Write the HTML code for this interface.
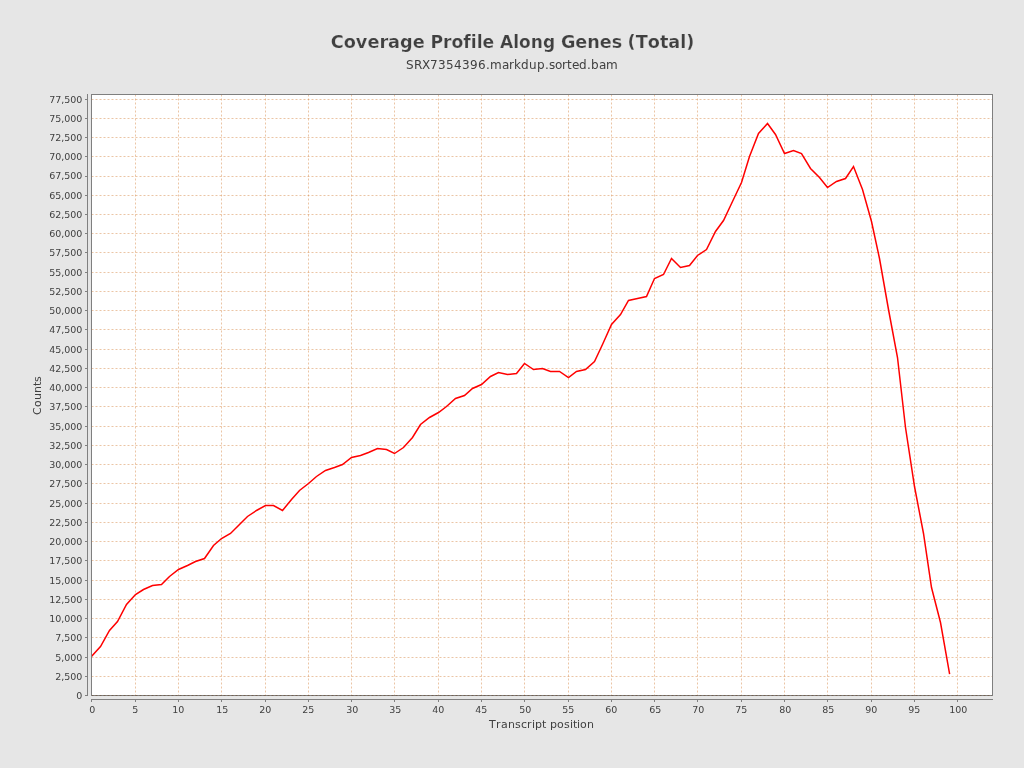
<!DOCTYPE html>
<html><head><meta charset="utf-8"><title>Coverage Profile Along Genes (Total)</title>
<style>html,body{margin:0;padding:0;background:#e6e6e6;overflow:hidden}svg{display:block}text{font-family:"DejaVu Sans","Liberation Sans",sans-serif;fill:#404040;font-variant-ligatures:none;font-kerning:none}</style></head><body>
<svg width="1024" height="768" viewBox="0 0 1024 768">
<rect width="1024" height="768" fill="#e6e6e6"/>
<text y="47.5" font-size="18" font-weight="bold" stroke="#e6e6e6" stroke-width="0.22"><tspan x="330.72" textLength="94.01" lengthAdjust="spacingAndGlyphs">Coverage</tspan> <tspan x="430.49" textLength="63.70" lengthAdjust="spacingAndGlyphs">Profile</tspan> <tspan x="500.10" textLength="55.01" lengthAdjust="spacingAndGlyphs">Along</tspan> <tspan x="560.92" textLength="61.28" lengthAdjust="spacingAndGlyphs">Genes</tspan> <tspan x="627.62" textLength="66.78" lengthAdjust="spacingAndGlyphs">(Total)</tspan></text>
<text x="406 414 422 430 438 446 454 462 470 478 486 490 502 509 514 521 529 537 545 549 555 562 567 572 579 587 591 599 606" y="69" font-size="12">SRX7354396.markdup.sorted.bam</text>
<rect x="91" y="94" width="902" height="602" fill="#fff"/>
<path d="M135.5 95V695.5M178.5 95V695.5M221.5 95V695.5M265.5 95V695.5M308.5 95V695.5M351.5 95V695.5M394.5 95V695.5M438.5 95V695.5M481.5 95V695.5M524.5 95V695.5M568.5 95V695.5M611.5 95V695.5M654.5 95V695.5M697.5 95V695.5M741.5 95V695.5M784.5 95V695.5M827.5 95V695.5M871.5 95V695.5M914.5 95V695.5M957.5 95V695.5M92 695.5H992M92 676.5H992M92 657.5H992M92 637.5H992M92 618.5H992M92 599.5H992M92 580.5H992M92 560.5H992M92 541.5H992M92 522.5H992M92 503.5H992M92 483.5H992M92 464.5H992M92 445.5H992M92 426.5H992M92 406.5H992M92 387.5H992M92 368.5H992M92 349.5H992M92 329.5H992M92 310.5H992M92 291.5H992M92 272.5H992M92 252.5H992M92 233.5H992M92 214.5H992M92 195.5H992M92 176.5H992M92 156.5H992M92 137.5H992M92 118.5H992M92 99.5H992" fill="none" stroke="rgb(214,139,74)" stroke-width="0.5" stroke-dasharray="2 2" stroke-dashoffset="0.5"/>
<clipPath id="c"><rect x="92" y="95" width="900" height="600.6"/></clipPath>
<polyline clip-path="url(#c)" points="91.5,656.5 100.5,646.5 109.5,630.5 117.5,621.5 126.5,604.5 135.5,594.5 143.5,589.5 152.5,585.5 161.5,584.5 169.5,576.5 178.5,569.5 187.5,565.5 195.5,561.5 204.5,558.5 213.5,545.5 221.5,538.5 230.5,533.5 239.5,524.5 247.5,516.5 256.5,510.5 265.5,505.5 273.5,505.5 282.5,510.5 291.5,499.5 299.5,490.5 308.5,483.5 316.5,476.5 325.5,470.5 334.5,467.5 342.5,464.5 351.5,457.5 360.5,455.5 368.5,452.5 377.5,448.5 386.5,449.5 394.5,453.5 403.5,447.5 412.5,437.5 420.5,424.5 429.5,417.5 438.5,412.5 446.5,406.5 455.5,398.5 464.5,395.5 472.5,388.5 481.5,384.5 490.5,376.5 498.5,372.5 507.5,374.5 516.5,373.5 524.5,363.5 533.5,369.5 542.5,368.5 550.5,371.5 559.5,371.5 568.5,377.5 576.5,371.5 585.5,369.5 594.5,361.5 602.5,344.5 611.5,324.5 620.5,314.5 628.5,300.5 637.5,298.5 646.5,296.5 654.5,278.5 663.5,274.5 671.5,258.5 680.5,267.5 689.5,265.5 697.5,255.5 706.5,249.5 715.5,231.5 723.5,220.5 732.5,201.5 741.5,182.5 749.5,156.5 758.5,133.5 767.5,123.5 775.5,134.5 784.5,153.5 793.5,150.5 801.5,153.5 810.5,168.5 819.5,177.5 827.5,187.5 836.5,181.5 845.5,178.5 853.5,166.5 862.5,189.5 871.5,221.5 879.5,258.5 888.5,309.5 897.5,357.5 905.5,427.5 914.5,486.5 923.5,533.5 931.5,587.5 940.5,622.5 949.5,673.5" fill="none" stroke="#ff0000" stroke-width="1.5" stroke-linejoin="miter" stroke-miterlimit="10" stroke-linecap="square"/>
<rect x="91.5" y="94.5" width="901" height="601" fill="none" stroke="#000" stroke-opacity="0.5" stroke-width="1" shape-rendering="crispEdges"/>
<path d="M87.5 94V696M85 695.5H88M85 676.5H88M85 657.5H88M85 637.5H88M85 618.5H88M85 599.5H88M85 580.5H88M85 560.5H88M85 541.5H88M85 522.5H88M85 503.5H88M85 483.5H88M85 464.5H88M85 445.5H88M85 426.5H88M85 406.5H88M85 387.5H88M85 368.5H88M85 349.5H88M85 329.5H88M85 310.5H88M85 291.5H88M85 272.5H88M85 252.5H88M85 233.5H88M85 214.5H88M85 195.5H88M85 176.5H88M85 156.5H88M85 137.5H88M85 118.5H88M85 99.5H88M91 699.5H993M91.5 699V702M135.5 699V702M178.5 699V702M221.5 699V702M265.5 699V702M308.5 699V702M351.5 699V702M394.5 699V702M438.5 699V702M481.5 699V702M524.5 699V702M568.5 699V702M611.5 699V702M654.5 699V702M697.5 699V702M741.5 699V702M784.5 699V702M827.5 699V702M871.5 699V702M914.5 699V702M957.5 699V702" fill="none" stroke="#808080" stroke-width="1" shape-rendering="crispEdges"/>
<g font-size="9.5">
<text x="76.3" y="699">0</text>
<text x="55.3 61.3 64.3 70.3 76.3" y="680">2,500</text>
<text x="55.3 61.3 64.3 70.3 76.3" y="661">5,000</text>
<text x="55.3 61.3 64.3 70.3 76.3" y="641">7,500</text>
<text x="49.3 55.3 61.3 64.3 70.3 76.3" y="622">10,000</text>
<text x="49.3 55.3 61.3 64.3 70.3 76.3" y="603">12,500</text>
<text x="49.3 55.3 61.3 64.3 70.3 76.3" y="584">15,000</text>
<text x="49.3 55.3 61.3 64.3 70.3 76.3" y="564">17,500</text>
<text x="49.3 55.3 61.3 64.3 70.3 76.3" y="545">20,000</text>
<text x="49.3 55.3 61.3 64.3 70.3 76.3" y="526">22,500</text>
<text x="49.3 55.3 61.3 64.3 70.3 76.3" y="507">25,000</text>
<text x="49.3 55.3 61.3 64.3 70.3 76.3" y="487">27,500</text>
<text x="49.3 55.3 61.3 64.3 70.3 76.3" y="468">30,000</text>
<text x="49.3 55.3 61.3 64.3 70.3 76.3" y="449">32,500</text>
<text x="49.3 55.3 61.3 64.3 70.3 76.3" y="430">35,000</text>
<text x="49.3 55.3 61.3 64.3 70.3 76.3" y="410">37,500</text>
<text x="49.3 55.3 61.3 64.3 70.3 76.3" y="391">40,000</text>
<text x="49.3 55.3 61.3 64.3 70.3 76.3" y="372">42,500</text>
<text x="49.3 55.3 61.3 64.3 70.3 76.3" y="353">45,000</text>
<text x="49.3 55.3 61.3 64.3 70.3 76.3" y="333">47,500</text>
<text x="49.3 55.3 61.3 64.3 70.3 76.3" y="314">50,000</text>
<text x="49.3 55.3 61.3 64.3 70.3 76.3" y="295">52,500</text>
<text x="49.3 55.3 61.3 64.3 70.3 76.3" y="276">55,000</text>
<text x="49.3 55.3 61.3 64.3 70.3 76.3" y="256">57,500</text>
<text x="49.3 55.3 61.3 64.3 70.3 76.3" y="237">60,000</text>
<text x="49.3 55.3 61.3 64.3 70.3 76.3" y="218">62,500</text>
<text x="49.3 55.3 61.3 64.3 70.3 76.3" y="199">65,000</text>
<text x="49.3 55.3 61.3 64.3 70.3 76.3" y="179">67,500</text>
<text x="49.3 55.3 61.3 64.3 70.3 76.3" y="160">70,000</text>
<text x="49.3 55.3 61.3 64.3 70.3 76.3" y="141">72,500</text>
<text x="49.3 55.3 61.3 64.3 70.3 76.3" y="122">75,000</text>
<text x="49.3 55.3 61.3 64.3 70.3 76.3" y="103">77,500</text>
<text x="89.2" y="713">0</text>
<text x="132.2" y="713">5</text>
<text x="172.2 178.2" y="713">10</text>
<text x="216.2 222.2" y="713">15</text>
<text x="259.2 265.2" y="713">20</text>
<text x="302.2 308.2" y="713">25</text>
<text x="346.2 352.2" y="713">30</text>
<text x="389.2 395.2" y="713">35</text>
<text x="432.2 438.2" y="713">40</text>
<text x="475.2 481.2" y="713">45</text>
<text x="519.2 525.2" y="713">50</text>
<text x="562.2 568.2" y="713">55</text>
<text x="605.2 611.2" y="713">60</text>
<text x="649.2 655.2" y="713">65</text>
<text x="692.2 698.2" y="713">70</text>
<text x="735.2 741.2" y="713">75</text>
<text x="779.2 785.2" y="713">80</text>
<text x="822.2 828.2" y="713">85</text>
<text x="865.2 871.2" y="713">90</text>
<text x="908.2 914.2" y="713">95</text>
<text x="949.2 955.2 961.2" y="713">100</text>
</g>
<text x="489.1 496.1 501.1 508.1 515.1 521.1 527.1 532.1 535.1 542.1 546.1 550.1 557.1 564.1 570.1 573.1 577.1 580.1 587.1" y="728" font-size="11">Transcript position</text>
<text transform="translate(41 415) rotate(-90)" font-size="11" x="0 8 15 22 29 33">Counts</text>
</svg></body></html>
